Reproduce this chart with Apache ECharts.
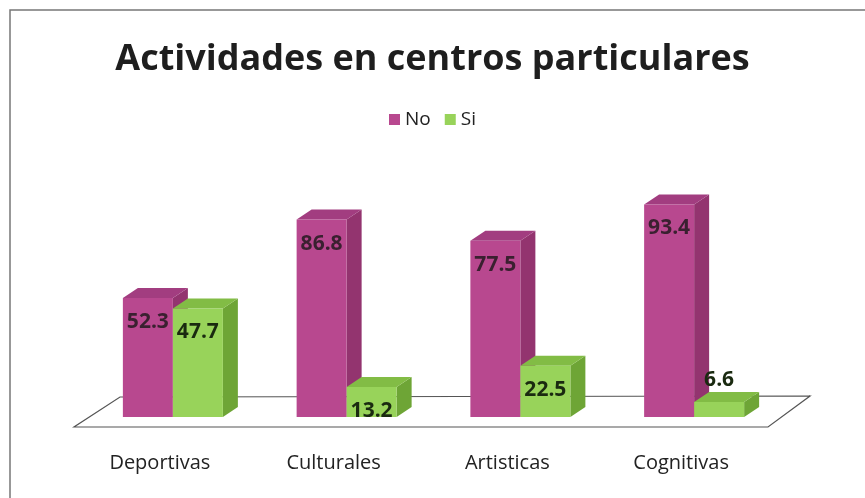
<!DOCTYPE html>
<html>
<head>
<meta charset="UTF-8">
<title>Actividades en centros particulares</title>
<script type="text/javascript" src="https://cdn.jsdelivr.net/npm/echarts@6/dist/echarts.min.js"></script>
</head>
<body style="margin:0;background:#fff;">
	<div id="chart" style="width: 865px; height: 498px;"></div>

	<script type="text/javascript">
	var categories = ['Deportivas', 'Culturales', 'Artisticas', 'Cognitivas'];
	var noData = [52.3, 86.8, 77.5, 93.4];
	var siData = [47.7, 13.2, 22.5, 6.6];

	var chart = echarts.init(document.getElementById('chart'));

	// colores de cada cara: frente, arriba, lado
	var faces = {
		No: ['#b8488f', '#a23d80', '#93346f'],
		Si: ['#98d35a', '#82bc45', '#6ea536']
	};
	var DX = 15, DY = -10;   // profundidad de la barra
	var BAR_W = 50;

	function barItem(side, colors) {
		return function (params, api) {
			var c = api.coord([api.value(0), api.value(1)]);
			var base = api.coord([api.value(0), 0]);
			var x0 = side === 0 ? c[0] - BAR_W : c[0];
			var x1 = x0 + BAR_W;
			var top = c[1], bot = base[1];
			var v = api.value(1);
			var children = [
				{ type: 'polygon', shape: { points: [[x1, bot], [x1 + DX, bot + DY], [x1 + DX, top + DY], [x1, top]] },
				  style: { fill: colors[2] } },
				{ type: 'polygon', shape: { points: [[x0, top], [x0 + DX, top + DY], [x1 + DX, top + DY], [x1, top]] },
				  style: { fill: colors[1] } },
				{ type: 'rect', shape: { x: x0, y: top, width: BAR_W, height: bot - top },
				  style: { fill: colors[0] } }
			];
			var ly = v < 10 ? top - 22 : top + 24;
			children.push({
				type: 'text', z2: 10,
				style: { x: (x0 + x1) / 2, y: ly, text: String(v), align: 'center', verticalAlign: 'middle',
				  font: 'bold 21px "Open Sans", sans-serif', fill: side === 0 ? '#3a2030' : '#1a2a10' }
			});
			return { type: 'group', children: children };
		};
	}

	function floorItem(params, api) {
		var c0 = api.coord([0, 0]);
		var band = api.size([1, 0])[0];
		var left = c0[0] - band / 2;
		var right = left + band * categories.length;
		var y = c0[1];
		return {
			type: 'polygon',
			shape: { points: [[left - 12, y + 10], [right - 13, y + 10], [right + 29, y - 21], [left + 34, y - 20]] },
			style: { fill: '#ffffff', stroke: '#555', lineWidth: 1.2 }
		};
	}

	var option = {
		animation: false,
		title: {
			text: 'Actividades en centros particulares',
			left: 'center', top: 37,
			textStyle: { fontFamily: 'Open Sans', fontWeight: 'bold', fontSize: 36, color: '#1e1e1e' }
		},
		legend: {
			top: 105, left: 'center',
			icon: 'rect', itemWidth: 11, itemHeight: 11, itemGap: 14,
			textStyle: { fontFamily: 'Open Sans', fontSize: 19, color: '#222' },
			data: ['No', 'Si']
		},
		graphic: [{
			type: 'rect', shape: { x: 10, y: 10, width: 880, height: 520 },
			style: { fill: 'none', stroke: '#777', lineWidth: 1.5 }
		}],
		grid: { left: 86, right: 84, top: 189.5, bottom: 81 },
		xAxis: {
			type: 'category', data: categories,
			axisLine: { show: false }, axisTick: { show: false },
			axisLabel: { margin: 36, padding: [0, 26, 0, 0], fontFamily: 'Open Sans', fontSize: 20, color: '#222' }
		},
		yAxis: { type: 'value', min: 0, max: 100, show: false },
		series: [{
			type: 'custom', name: 'floor', silent: true, z: 1,
			renderItem: floorItem, data: [[0, 0]]
		}, {
			type: 'custom', name: 'No', z: 2,
			itemStyle: { color: faces.No[0] },
			renderItem: barItem(0, faces.No),
			data: noData.map(function (v, i) { return [i, v]; })
		}, {
			type: 'custom', name: 'Si', z: 3,
			itemStyle: { color: faces.Si[0] },
			renderItem: barItem(1, faces.Si),
			data: siData.map(function (v, i) { return [i, v]; })
		}]
	};
	chart.setOption(option);
	</script>
</body>
</html>
